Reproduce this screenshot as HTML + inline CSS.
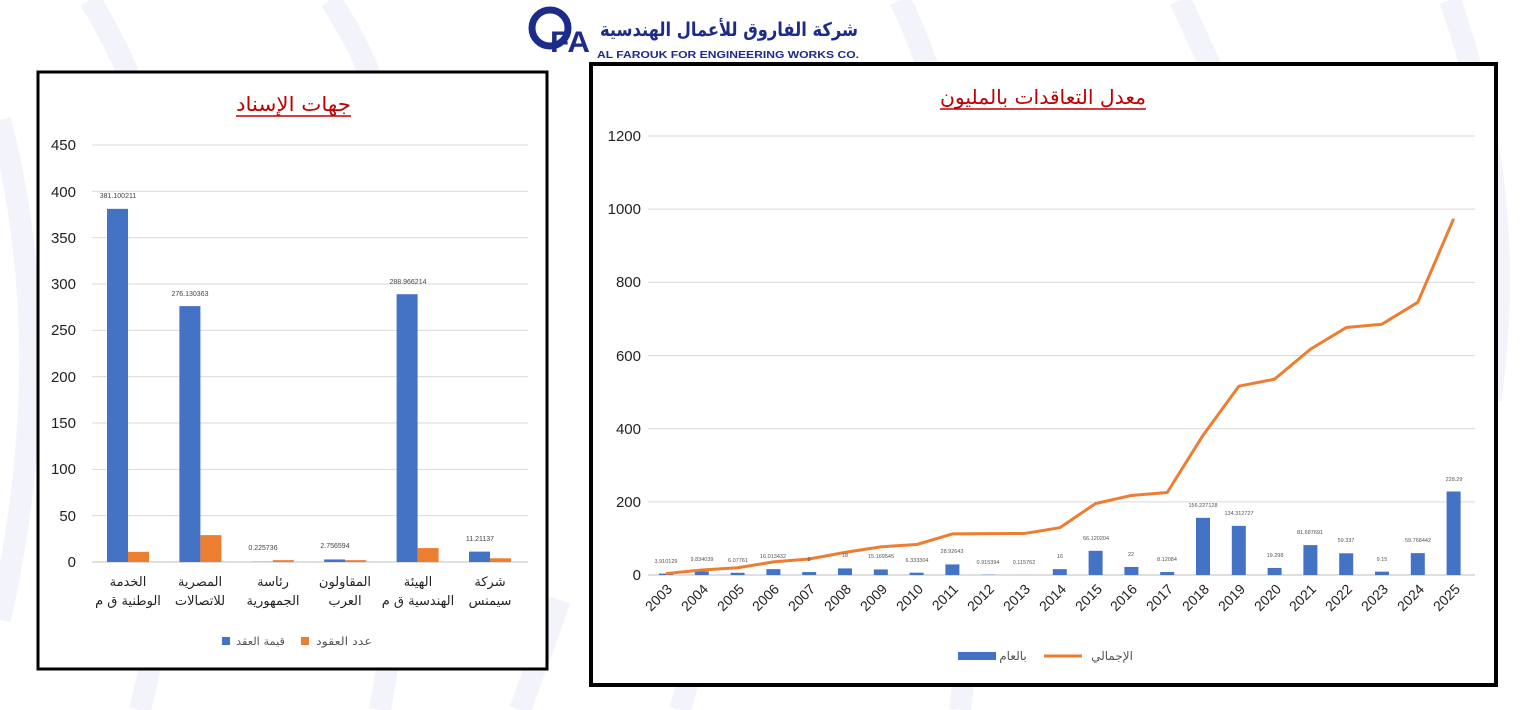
<!DOCTYPE html>
<html><head><meta charset="utf-8"><style>
body{margin:0;width:1523px;height:710px;background:#fff;overflow:hidden;font-family:"Liberation Sans","Noto Sans CJK SC",sans-serif}
svg{position:absolute;left:0;top:0}
</style></head><body>
<svg width="1523" height="710" xmlns="http://www.w3.org/2000/svg" font-family="Liberation Sans, DejaVu Sans, sans-serif">
<g stroke="#f3f3fc" stroke-width="22" fill="none">
<path d="M0 120 Q60 350 0 620"/><path d="M90 0 Q250 260 140 710"/><path d="M330 0 Q470 200 380 710"/>
<path d="M900 0 Q1020 250 960 710"/><path d="M1180 0 L1300 260"/><path d="M1450 0 Q1520 200 1490 400"/>
<path d="M560 600 L520 710"/><path d="M700 640 L680 710"/>
</g>
<!-- logo -->
<circle cx="550" cy="28" r="18" fill="none" stroke="#1d2b8a" stroke-width="7"/>
<text x="550" y="52" font-size="30" font-weight="bold" fill="#1d2b8a" textLength="40" lengthAdjust="spacingAndGlyphs">FA</text>
<text x="600" y="36" font-size="19" font-weight="bold" fill="#1d2b8a" textLength="258" lengthAdjust="spacingAndGlyphs" font-family="DejaVu Sans, sans-serif">شركة الفاروق للأعمال الهندسية</text>
<text x="597" y="58" font-size="10" font-weight="bold" fill="#1d2b8a" textLength="262" lengthAdjust="spacingAndGlyphs">AL FAROUK FOR ENGINEERING WORKS CO.</text>

<!-- LEFT CHART -->
<rect x="38" y="72" width="509" height="597" fill="#fff" stroke="#000" stroke-width="3"/>
<text x="236" y="111" font-size="20" fill="#c00000" textLength="115" lengthAdjust="spacingAndGlyphs" font-family="DejaVu Sans, sans-serif">جهات الإسناد</text>
<line x1="236" y1="116" x2="351" y2="116" stroke="#c00000" stroke-width="1.5"/>
<g stroke="#d9d9d9" stroke-width="1" id="lg"></g>
<g font-size="15" fill="#222" text-anchor="end">
<text x="76" y="150">450</text><text x="76" y="197">400</text><text x="76" y="243">350</text><text x="76" y="289">300</text><text x="76" y="335">250</text><text x="76" y="382">200</text><text x="76" y="428">150</text><text x="76" y="474">100</text><text x="76" y="521">50</text><text x="76" y="567">0</text>
</g>
<g id="lb"></g>
<g font-size="7" fill="#444" text-anchor="middle">
<text x="118" y="198">381.100211</text><text x="190" y="296">276.130363</text><text x="263" y="550">0.225736</text><text x="335" y="548">2.756594</text><text x="408" y="284">288.966214</text><text x="480" y="541">11.21137</text>
</g>
<g font-size="13" fill="#222" text-anchor="middle" font-family="DejaVu Sans, sans-serif">
<text x="128" y="586">الخدمة</text><text x="128" y="605">الوطنية ق م</text>
<text x="200" y="586">المصرية</text><text x="200" y="605">للاتصالات</text>
<text x="273" y="586">رئاسة</text><text x="273" y="605">الجمهورية</text>
<text x="345" y="586">المقاولون</text><text x="345" y="605">العرب</text>
<text x="418" y="586">الهيئة</text><text x="418" y="605">الهندسية ق م</text>
<text x="490" y="586">شركة</text><text x="490" y="605">سيمنس</text>
</g>
<rect x="222" y="637" width="8" height="8" fill="#4472c4"/>
<text x="236" y="645" font-size="11" fill="#555" textLength="49" lengthAdjust="spacingAndGlyphs" font-family="DejaVu Sans, sans-serif">قيمة العقد</text>
<rect x="301" y="637" width="8" height="8" fill="#ed7d31"/>
<text x="316" y="645" font-size="11" fill="#555" textLength="56" lengthAdjust="spacingAndGlyphs" font-family="DejaVu Sans, sans-serif">عدد العقود</text>

<!-- RIGHT CHART -->
<rect x="591" y="64" width="905" height="621" fill="#fff" stroke="#000" stroke-width="4"/>
<text x="940" y="104" font-size="20" fill="#c00000" textLength="206" lengthAdjust="spacingAndGlyphs" font-family="DejaVu Sans, sans-serif">معدل التعاقدات بالمليون</text>
<line x1="940" y1="109" x2="1146" y2="109" stroke="#c00000" stroke-width="1.5"/>
<g id="rg"></g>
<g font-size="15" fill="#222" text-anchor="end">
<text x="641" y="141">1200</text><text x="641" y="214">1000</text><text x="641" y="287">800</text><text x="641" y="361">600</text><text x="641" y="434">400</text><text x="641" y="507">200</text><text x="641" y="580">0</text>
</g>
<g id="rb"></g>
<g font-size="5.5" fill="#555" text-anchor="middle">
<text x="666" y="563">3.910129</text><text x="702" y="561">9.834039</text><text x="738" y="562">6.07761</text><text x="773" y="558">16.013432</text><text x="809" y="561">8</text><text x="845" y="557">18</text><text x="881" y="558">15.169545</text><text x="917" y="562">6.333304</text><text x="952" y="553">28.92643</text><text x="988" y="564">0.915394</text><text x="1024" y="564">0.115762</text><text x="1060" y="558">16</text><text x="1096" y="540">66.120204</text><text x="1131" y="556">22</text><text x="1167" y="561">8.12084</text><text x="1203" y="507">156.227128</text><text x="1239" y="515">134.312727</text><text x="1275" y="557">19.298</text><text x="1310" y="534">81.687691</text><text x="1346" y="542">59.337</text><text x="1382" y="561">9.15</text><text x="1418" y="542">59.768442</text><text x="1454" y="481">228.29</text>
</g>
<g font-size="14" fill="#222" text-anchor="end">
<text transform="translate(673,590) rotate(-45)">2003</text><text transform="translate(709,590) rotate(-45)">2004</text><text transform="translate(745,590) rotate(-45)">2005</text><text transform="translate(780,590) rotate(-45)">2006</text><text transform="translate(816,590) rotate(-45)">2007</text><text transform="translate(852,590) rotate(-45)">2008</text><text transform="translate(888,590) rotate(-45)">2009</text><text transform="translate(924,590) rotate(-45)">2010</text><text transform="translate(959,590) rotate(-45)">2011</text><text transform="translate(995,590) rotate(-45)">2012</text><text transform="translate(1031,590) rotate(-45)">2013</text><text transform="translate(1067,590) rotate(-45)">2014</text><text transform="translate(1103,590) rotate(-45)">2015</text><text transform="translate(1138,590) rotate(-45)">2016</text><text transform="translate(1174,590) rotate(-45)">2017</text><text transform="translate(1210,590) rotate(-45)">2018</text><text transform="translate(1246,590) rotate(-45)">2019</text><text transform="translate(1282,590) rotate(-45)">2020</text><text transform="translate(1317,590) rotate(-45)">2021</text><text transform="translate(1353,590) rotate(-45)">2022</text><text transform="translate(1389,590) rotate(-45)">2023</text><text transform="translate(1425,590) rotate(-45)">2024</text><text transform="translate(1461,590) rotate(-45)">2025</text>
</g>
<rect x="958" y="652" width="38" height="8" fill="#4472c4"/>
<text x="1013" y="660" font-size="12" fill="#555" text-anchor="middle" font-family="DejaVu Sans, sans-serif">بالعام</text>
<line x1="1044" y1="656" x2="1082" y2="656" stroke="#ed7d31" stroke-width="3"/>
<text x="1112" y="660" font-size="12" fill="#555" text-anchor="middle" font-family="DejaVu Sans, sans-serif">الإجمالي</text>
</svg>
<script>
var NS="http://www.w3.org/2000/svg";
function el(p,t,a){var e=document.createElementNS(NS,t);for(var k in a)e.setAttribute(k,a[k]);document.getElementById(p).appendChild(e);return e;}
for(var i=0;i<=9;i++){var y=562-i*50*0.9267;el("lg","line",{x1:92,x2:528,y1:y,y2:y,stroke:i==0?"#bfbfbf":"#d9d9d9"});}
var lb=[381.1,276.13,0.2257,2.7566,288.97,11.21],lo=[11,29,2,2,15,4];
for(var i=0;i<6;i++){var c=128+72.4*i;
el("lb","rect",{x:c-21,y:562-lb[i]*0.9267,width:21,height:lb[i]*0.9267,fill:"#4472c4"});
el("lb","rect",{x:c,y:562-lo[i]*0.9267,width:21,height:lo[i]*0.9267,fill:"#ed7d31"});}
var s=439/1200;
for(var i=0;i<=6;i++){var y=575-i*200*s;el("rg","line",{x1:648,x2:1475,y1:y,y2:y,stroke:i==0?"#bfbfbf":"#d9d9d9"});}
var v=[3.91,9.83,6.08,16.01,8,18,15.17,6.33,28.93,0.92,0.12,16,66.12,22,8.12,156.23,134.31,19.3,81.69,59.34,9.15,59.77,228.29];
var cum=0,pts=[];
for(var i=0;i<v.length;i++){var c=666+35.8*i;cum+=v[i];
el("rb","rect",{x:c-7,y:575-v[i]*s,width:14,height:v[i]*s,fill:"#4472c4"});
pts.push(c+","+(575-cum*s));}
el("rb","polyline",{points:pts.join(" "),fill:"none",stroke:"#ed7d31","stroke-width":3,"stroke-linejoin":"round"});
</script>
</body></html>
